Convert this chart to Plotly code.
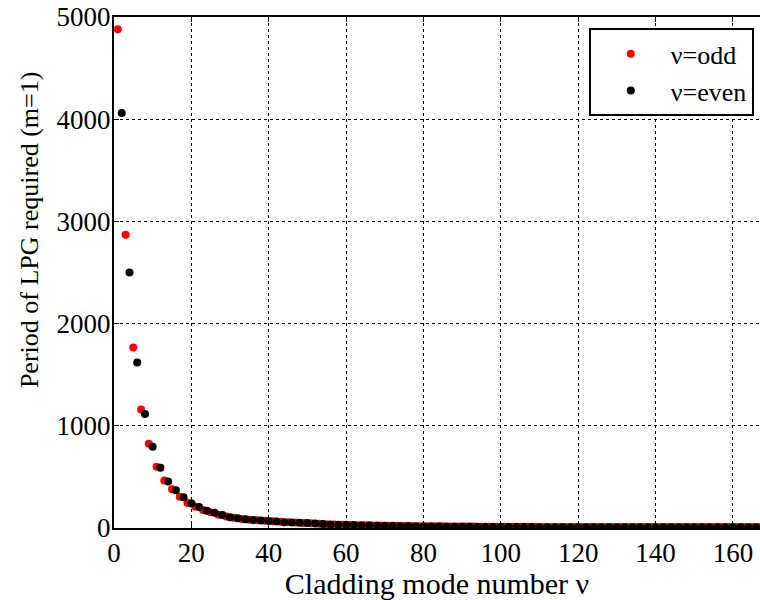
import plotly.graph_objects as go

# Period of LPG required (m=1), per cladding mode number
nu_odd = list(range(1, 168, 2))
period_odd = [
    4880, 2870, 1765, 1160, 825, 600, 465, 380, 305, 245,
    210, 175, 155, 130, 112, 100, 89, 80, 76, 70,
    65, 60, 56, 53, 50, 46, 42, 37, 34, 32,
    30, 28, 27, 25, 24, 22, 21, 20, 19, 18,
    17, 16, 16, 15, 15, 14, 14, 13, 13, 13,
    12, 12, 12, 12, 12, 11, 11, 11, 11, 11,
    11, 11, 10, 10, 10, 10, 10, 10, 10, 10,
    10, 10, 10, 10, 10, 10, 10, 10, 10, 10,
    10, 10, 10, 10,
]
nu_even = list(range(2, 169, 2))
period_even = [
    4060, 2500, 1620, 1115, 795, 590, 455, 370, 300, 242,
    205, 170, 150, 127, 106, 95, 85, 78, 74, 68,
    63, 57, 55, 51, 48, 45, 40, 35, 33, 31,
    29, 28, 26, 25, 23, 22, 20, 19, 18, 17,
    16, 16, 15, 15, 14, 14, 13, 13, 13, 12,
    12, 12, 12, 12, 11, 11, 11, 11, 11, 11,
    11, 10, 10, 10, 10, 10, 10, 10, 10, 10,
    10, 10, 10, 10, 10, 10, 10, 10, 10, 10,
    10, 10, 10, 10,
]

x_ticks = [0, 20, 40, 60, 80, 100, 120, 140, 160]
y_ticks = [0, 1000, 2000, 3000, 4000, 5000]

FONT = "Liberation Serif, Times New Roman, DejaVu Serif, serif"

fig = go.Figure()
fig.add_trace(go.Scatter(
    x=nu_odd, y=period_odd, mode="markers", name="ν=odd",
    marker=dict(color="#ff0000", size=8),
))
fig.add_trace(go.Scatter(
    x=nu_even, y=period_even, mode="markers", name="ν=even",
    marker=dict(color="#000000", size=8),
))

axis_common = dict(
    showline=True, linecolor="black", linewidth=2,
    ticks="inside", ticklen=5, tickwidth=1, tickcolor="black",
    showgrid=True, gridcolor="black", gridwidth=1, griddash="dot",
    zeroline=False, automargin=False,
    tickfont=dict(family=FONT, size=27, color="black"),
)

fig.update_xaxes(
    range=[0, 167], tickvals=x_ticks, mirror="ticks",
    title=dict(text="Cladding mode number ν", font=dict(family=FONT, size=30, color="black"), standoff=4),
    **axis_common,
)
fig.update_yaxes(
    range=[0, 5000], tickvals=y_ticks, mirror=False, ticklabelstandoff=-4,
    **axis_common,
)

fig.add_annotation(
    text="Period of LPG required (m=1)", textangle=-90,
    xref="paper", yref="paper", x=0, y=0.583, xshift=-85,
    xanchor="center", yanchor="middle", showarrow=False,
    font=dict(family=FONT, size=26, color="black"),
)

fig.update_layout(
    width=760, height=600,
    margin=dict(l=114, r=0, t=17, b=72, autoexpand=False),
    paper_bgcolor="white", plot_bgcolor="white",
    font=dict(family=FONT, color="black"),
    legend=dict(
        x=0.735, y=0.978, xanchor="left", yanchor="top",
        bgcolor="white", bordercolor="black", borderwidth=2,
        font=dict(family=FONT, size=26, color="black"),
        itemwidth=70,
    ),
)

fig.write_html("out.html", config={"displayModeBar": False},
               post_script="document.body.style.margin='0';")
